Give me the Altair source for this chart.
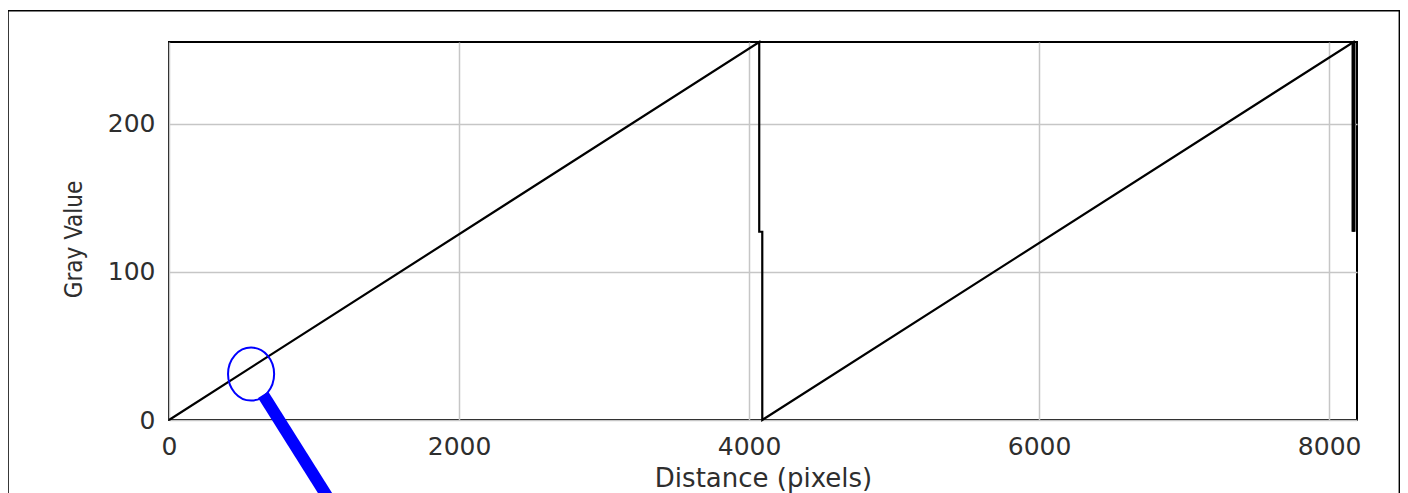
import altair as alt
import pandas as pd

# ---- data (ImageJ-style line profile) ----
distance = [0, 4070, 4070, 4091, 4091, 8168, 8168]
gray = [0, 255, 127, 127, 0, 255, 127]

# final (thicker) drop at the right end of the profile
drop_x = [8168]
drop_top = [255]
drop_bottom = [127]

x_ticks = [0, 2000, 4000, 6000, 8000]
y_ticks = [0, 100, 200]

# blue annotation: ellipse + pointer (data units)
ellipse_x = [566]
ellipse_y = [31]
pointer_x = [649, 1190]
pointer_y = [17, -67]

# outer frame of the figure (data units, drawn unclipped)
frame_x = [-1110, 8484]
frame_y = [276, -60]

X_DOMAIN = [0, 8192]
Y_DOMAIN = [0, 255]

TXT = "#2e2e2e"
GRID = "#c6c6c6"

xs = alt.Scale(domain=X_DOMAIN, nice=False, zero=False)
ys = alt.Scale(domain=Y_DOMAIN, nice=False, zero=False)

profile = pd.DataFrame({"distance": distance, "gray": gray,
                        "order": list(range(len(distance)))})

x_axis = alt.Axis(values=x_ticks, title="Distance (pixels)", format="d",
                  grid=True, gridColor=GRID, gridWidth=1.5,
                  domain=False, ticks=False,
                  labelFont="DejaVu Sans", labelFontSize=25, labelColor=TXT,
                  labelPadding=14, labelFlush=False, labelOverlap=False,
                  titleFont="DejaVu Sans", titleFontSize=26,
                  titleFontWeight="normal", titleColor=TXT, titlePadding=6)
y_axis = alt.Axis(values=y_ticks, title="Gray Value", format="d",
                  grid=True, gridColor=GRID, gridWidth=1.5,
                  domain=False, ticks=False,
                  labelFont="DejaVu Sans", labelFontSize=25, labelColor=TXT,
                  labelPadding=14, labelFlush=False, labelOverlap=False,
                  titleFont="Liberation Sans Narrow, DejaVu Sans Condensed, Liberation Sans",
                  titleFontSize=24, titleFontWeight="normal", titleColor=TXT,
                  titlePadding=21, titleY=197)


def X(field):
    return alt.X(field, scale=xs, axis=x_axis, title="Distance (pixels)")


def Y(field):
    return alt.Y(field, scale=ys, axis=y_axis, title="Gray Value")


frame = alt.Chart(pd.DataFrame({"x": [frame_x[0]], "x2": [frame_x[1]],
                                "y": [frame_y[0]], "y2": [frame_y[1]]})).mark_rect(
    fillOpacity=0, stroke="black", strokeWidth=1.5, clip=False
).encode(x=X("x:Q"), x2="x2:Q", y=Y("y:Q"), y2="y2:Q")

line = alt.Chart(profile).mark_line(color="black", strokeWidth=2.2, clip=False).encode(
    x=X("distance:Q"), y=Y("gray:Q"), order="order:Q",
)

drop = alt.Chart(pd.DataFrame({"x": drop_x, "top": drop_top, "bottom": drop_bottom})).mark_rule(
    color="black", strokeWidth=4
).encode(x=X("x:Q"), y=Y("top:Q"), y2="bottom:Q")

ell_path = "M -0.87 0 A 0.87 1 0 1 1 0.87 0 A 0.87 1 0 1 1 -0.87 0 Z"
ellipse = alt.Chart(pd.DataFrame({"x": ellipse_x, "y": ellipse_y})).mark_point(
    shape=ell_path, size=53 * 53, filled=False, color="#0000ff",
    strokeWidth=2, opacity=1, clip=False
).encode(x=X("x:Q"), y=Y("y:Q"))

pointer = alt.Chart(pd.DataFrame({"x": pointer_x, "y": pointer_y})).mark_line(
    color="#0000ff", strokeWidth=12, strokeCap="butt", clip=False
).encode(x=X("x:Q"), y=Y("y:Q"))

chart = alt.layer(line, frame, drop, ellipse, pointer).properties(
    width=1188, height=378,
    background="white",
    autosize=alt.AutoSizeParams(type="none"),
    padding={"left": 161, "top": 34, "right": 43, "bottom": 73},
).configure_view(
    stroke="black", strokeWidth=2
)

chart.save("out.html", embed_options={"renderer": "svg", "actions": False})
